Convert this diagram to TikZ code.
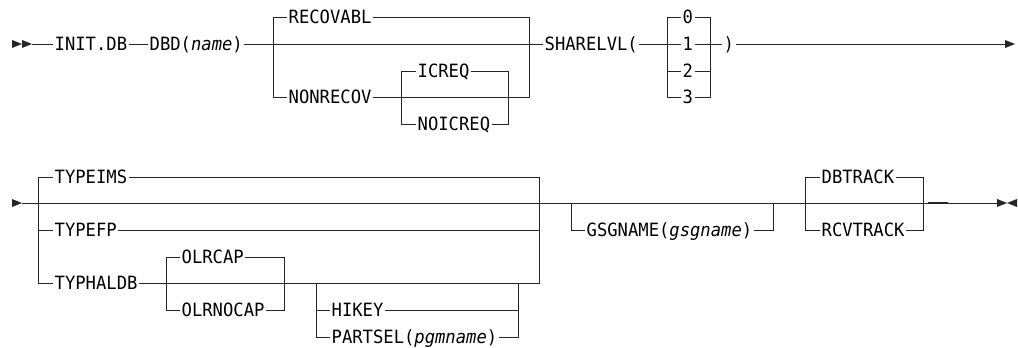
\documentclass[tikz,border=0pt]{standalone}
\usepackage{fontspec}
\newfontfamily\kwfont{DejaVu Sans Mono}[FakeStretch=0.94]
\tikzset{
  kw/.style={font=\kwfont\fontsize{13}{15}\selectfont, inner xsep=1pt, inner ysep=0pt,
    text height=9.5pt, text depth=0pt, anchor=west},
  rail/.style={line width=0.7pt, black!85},
}
\begin{document}
\begin{tikzpicture}[x=0.025cm, y=-0.025cm]
\useasboundingbox (0,0) rectangle (1018,348);

% first line
\fill[black!85] (12,40) -- (22,44) -- (12,48) -- cycle;
\fill[black!85] (22,40) -- (32,44) -- (22,48) -- cycle;
\node[kw] (init) at (53,44) {INIT.DB};
\node[kw] (dbd) at (148,44) {DBD(\textit{name})};
\node[kw] (recov) at (287,17) {RECOVABL};
\node[kw] (nonrecov) at (287,97) {NONRECOV};
\node[kw] (icreq) at (416,71) {ICREQ};
\node[kw] (noicreq) at (416,124) {NOICREQ};
\node[kw] (sharelvl) at (543,44) {SHARELVL(};
\node[kw] (lvl0) at (681,17) {0};
\node[kw] (lvl1) at (681,44) {1};
\node[kw] (lvl2) at (681,71) {2};
\node[kw] (lvl3) at (681,97) {3};
\node[kw] (rpar) at (722,44) {)};
\coordinate (endA) at (1005,44);

\draw[rail] (32,44) -- (init.west);
\draw[rail] (init.east) -- (dbd.west);
\draw[rail] (dbd.east) -- (sharelvl.west);
\draw[rail] (recov.west) -| (273,97) -- (nonrecov.west);
\draw[rail] (recov.east) -| (529,97) -- (nonrecov.east);
\draw[rail] (icreq.west) -| (401,124) -- (noicreq.west);
\draw[rail] (icreq.east) -| (508,124) -- (noicreq.east);
\draw[rail] (sharelvl.east) -- (lvl1.west);
\draw[rail] (lvl0.west) -| (667,97) -- (lvl3.west);
\draw[rail] (lvl2.west) -- (667,71);
\draw[rail] (lvl0.east) -| (710,97) -- (lvl3.east);
\draw[rail] (lvl2.east) -- (710,71);
\draw[rail] (lvl1.east) -- (rpar.west);
\draw[rail] (rpar.east) -- (endA);
\fill[black!85] (1005,40) -- (1015,44) -- (1005,48) -- cycle;

% second line
\fill[black!85] (12,199) -- (22,203) -- (12,207) -- cycle;
\node[kw] (typeims) at (53,177) {TYPEIMS};
\node[kw] (typefp) at (53,230) {TYPEFP};
\node[kw] (typhaldb) at (53,283) {TYPHALDB};
\node[kw] (olrcap) at (180,257) {OLRCAP};
\node[kw] (olrnocap) at (180,310) {OLRNOCAP};
\node[kw] (hikey) at (330,310) {HIKEY};
\node[kw] (partsel) at (330,337) {PARTSEL(\textit{pgmname})};
\node[kw] (gsgname) at (585,230) {GSGNAME(\textit{gsgname})};
\node[kw] (dbtrack) at (820,177) {DBTRACK};
\node[kw] (rcvtrack) at (820,230) {RCVTRACK};
\coordinate (startB) at (22,203);
\coordinate (endB) at (997,203);

\draw[rail] (startB) -- (endB);
\draw[rail] (typeims.west) -| (38,283) -- (typhaldb.west);
\draw[rail] (typefp.west) -- (38,230);
\draw[rail] (typeims.east) -| (539,283) -- (typhaldb.east);
\draw[rail] (typefp.east) -- (539,230);
\draw[rail] (olrcap.west) -| (166,310) -- (olrnocap.west);
\draw[rail] (olrcap.east) -| (284,310) -- (olrnocap.east);
\draw[rail] (316,283) |- (partsel.west);
\draw[rail] (hikey.west) -- (316,310);
\draw[rail] (518,283) |- (partsel.east);
\draw[rail] (hikey.east) -- (518,310);
\draw[rail] (571,203) |- (gsgname.west);
\draw[rail] (gsgname.east) -| (773,203);
\draw[rail] (dbtrack.west) -| (805,230) -- (rcvtrack.west);
\draw[rail] (dbtrack.east) -| (923,230) -- (rcvtrack.east);
\draw[rail, line width=1.5pt] (928,203) -- (948,203);
\fill[black!85] (997,199) -- (1007,203) -- (997,207) -- cycle;
\fill[black!85] (1017,199) -- (1007,203) -- (1017,207) -- cycle;
\end{tikzpicture}
\end{document}
